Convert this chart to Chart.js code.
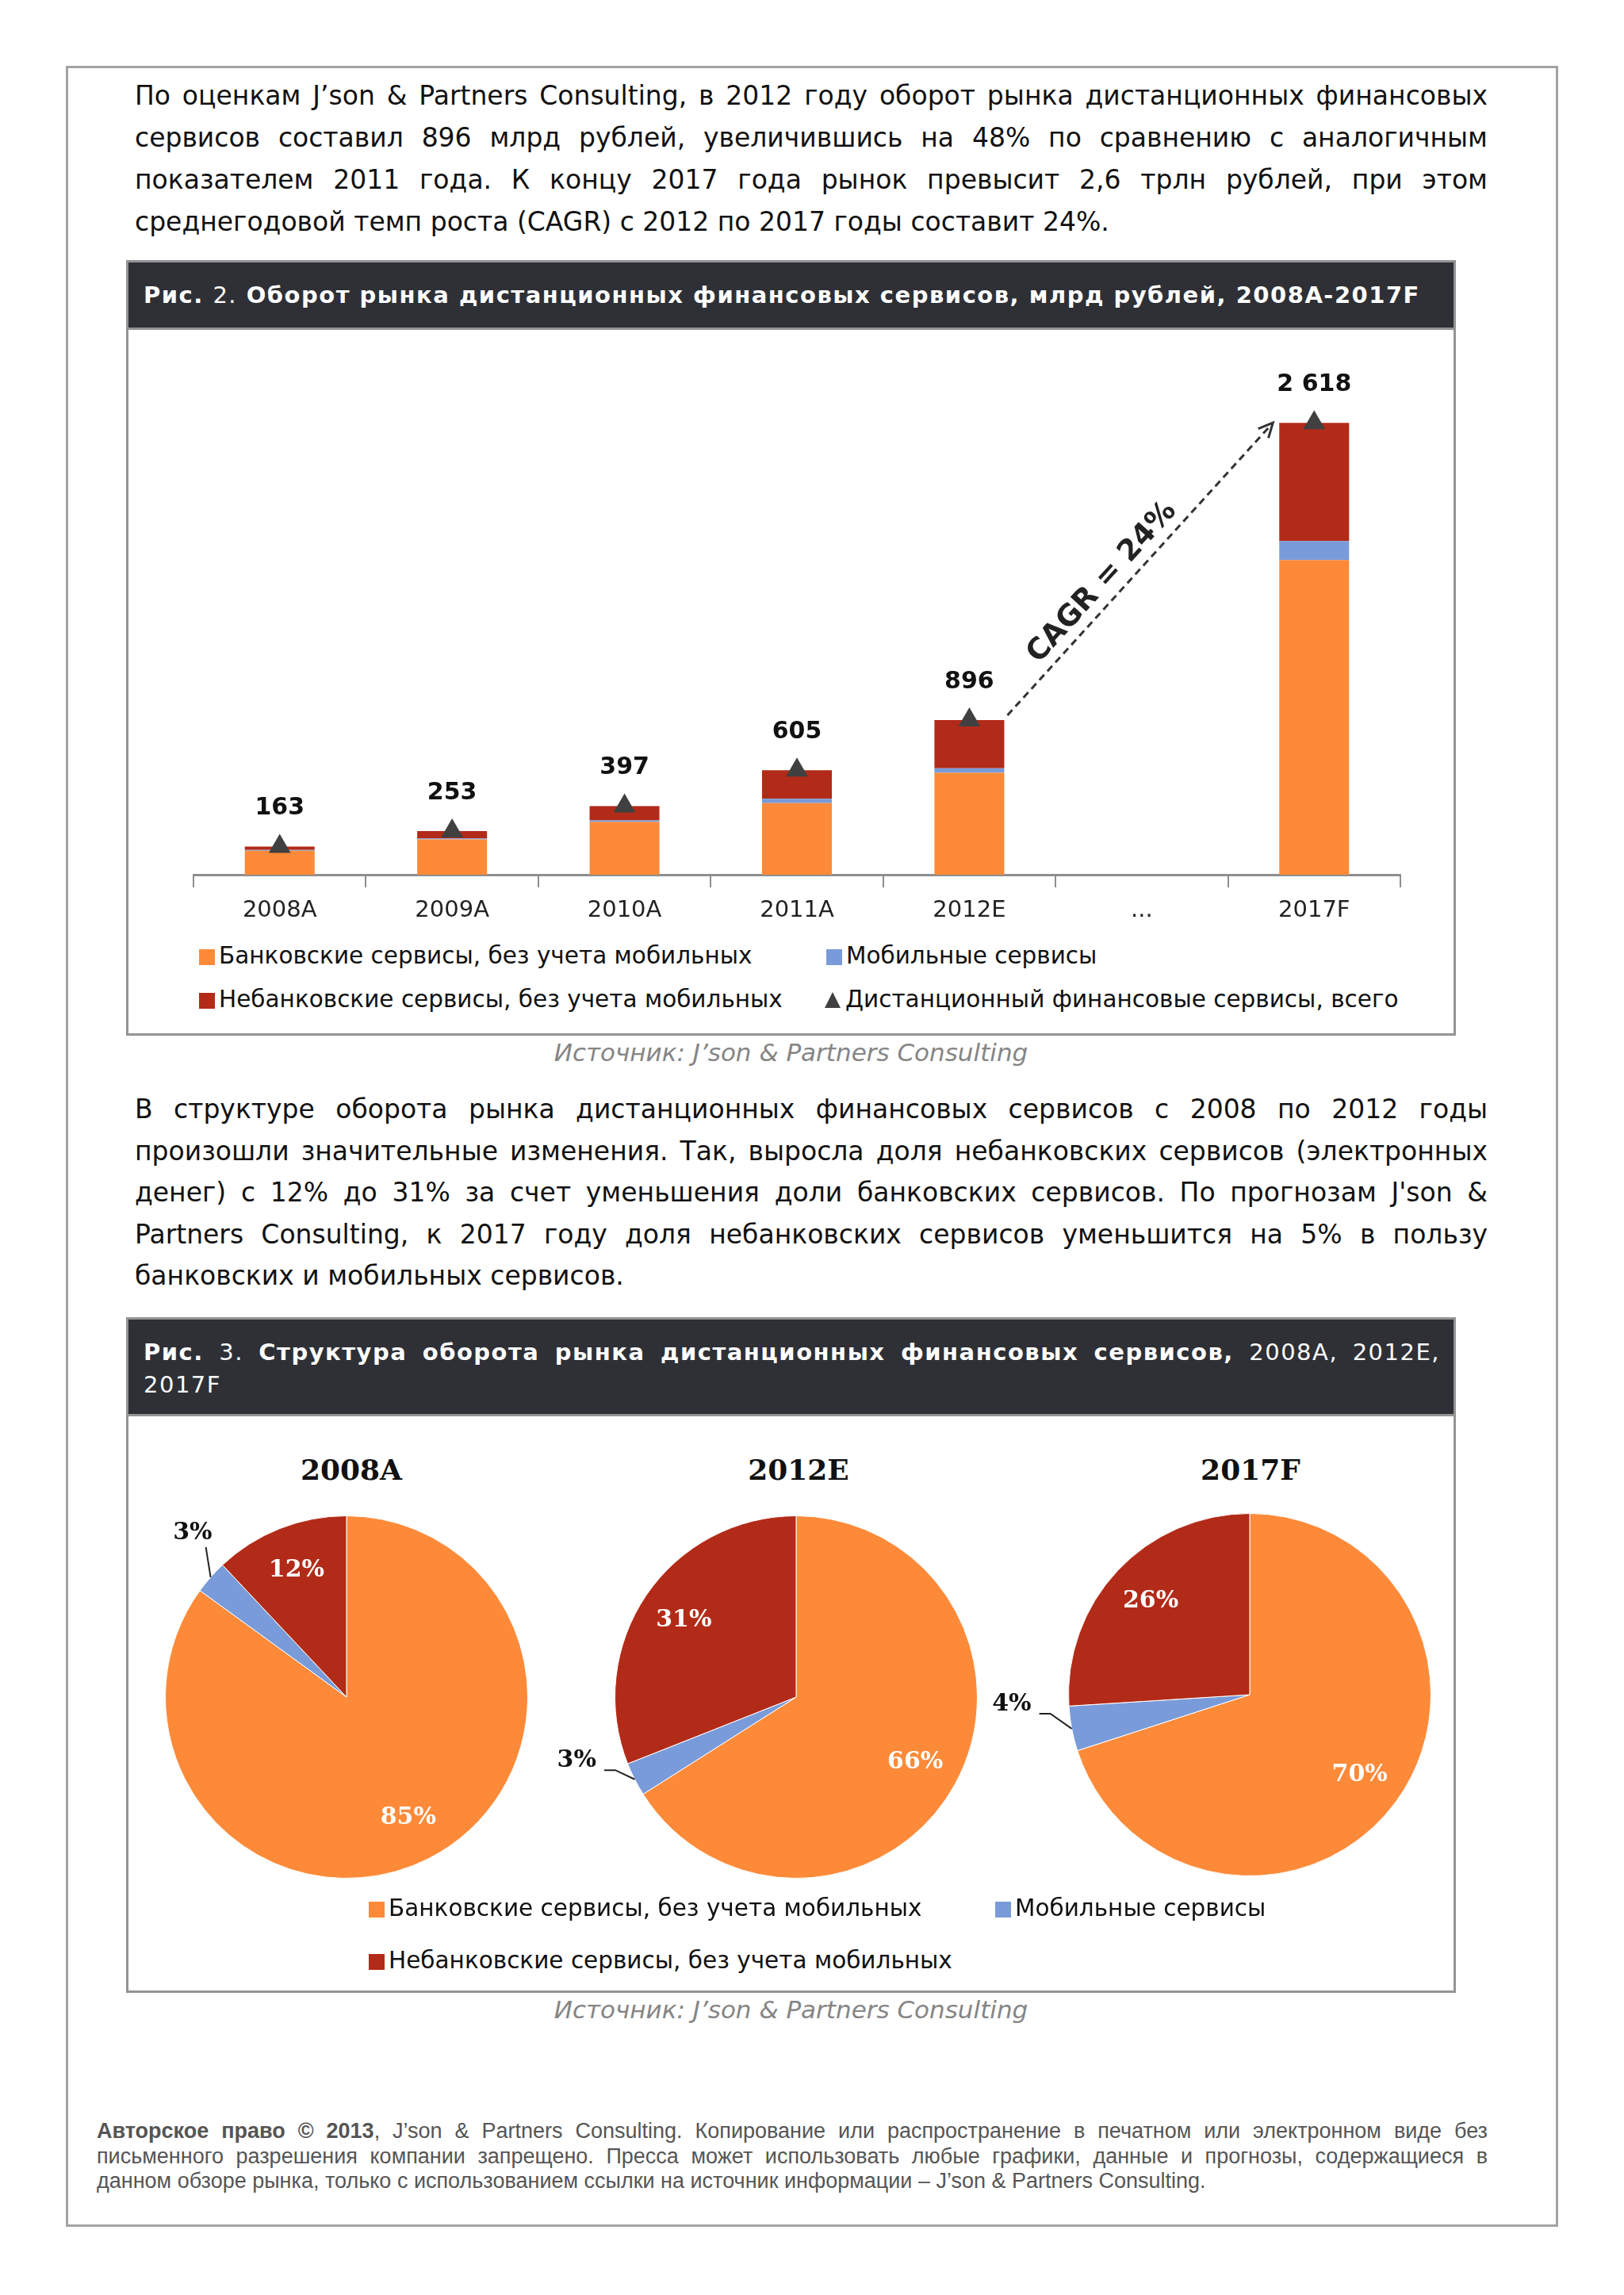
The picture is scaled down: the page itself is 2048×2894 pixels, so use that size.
<!DOCTYPE html>
<html lang="ru">
<head>
<meta charset="utf-8">
<script src="https://cdn.jsdelivr.net/npm/chart.js@4.4.1/dist/chart.umd.min.js"></script>
<style>
    html, body { margin: 0; padding: 0; background: #fff; }
    body { width: 2048px; height: 2894px; position: relative; overflow: hidden; font-family: "DejaVu Sans", sans-serif; color: #111; }
    .abs { position: absolute; }
    .page { position: absolute; left: 83px; top: 83px; width: 1882px; height: 2725px; box-sizing: border-box; border: 3px solid #a3a3a3; }
    .para { position: absolute; left: 170px; width: 1706px; font-size: 33px; line-height: 53px; color: #111; }
    .jl { text-align: justify; text-align-last: justify; }
    .fig { position: absolute; left: 159px; width: 1677px; box-sizing: border-box; border: 3px solid #949494; background: #fff; }
    .fighead { position: absolute; left: 0; top: 0; right: 0; background: #2e3036; border-bottom: 3px solid #949494; color: #fff; font-weight: bold; font-size: 29px; letter-spacing: 1.5px; }
    .fighead .n { font-weight: normal; }
    .legend { position: absolute; font-size: 29.5px; color: #111; white-space: nowrap; line-height: 34px; }
    .legend .sw { display: inline-block; width: 20px; height: 20px; margin-right: 5px; vertical-align: -2px; }
    .legend .tri { display: inline-block; width: 0; height: 0; border-left: 10px solid transparent; border-right: 10px solid transparent; border-bottom: 20px solid #404040; margin-right: 6px; vertical-align: -1px; }
    .source { position: absolute; left: 159px; width: 1677px; text-align: center; font-style: italic; font-size: 31px; color: #858585; }
    .pietitle { position: absolute; width: 300px; margin-left: -150px; text-align: center; font-family: "DejaVu Serif", serif; font-weight: bold; font-size: 36px; color: #111; }
    .footer { position: absolute; left: 122px; width: 1754px; font-family: "Liberation Sans", Arial, sans-serif; font-size: 27px; line-height: 31.5px; color: #555; }
    canvas { position: absolute; }
</style>
</head>
<body>
<div class="page"></div>

<div class="para" style="top:94px;">
    <div class="jl">По оценкам J’son &amp; Partners Consulting, в 2012 году оборот рынка дистанционных финансовых</div>
    <div class="jl">сервисов составил 896 млрд рублей, увеличившись на 48% по сравнению с аналогичным</div>
    <div class="jl">показателем 2011 года. К концу 2017 года рынок превысит 2,6 трлн рублей, при этом</div>
    <div>среднегодовой темп роста (CAGR) с 2012 по 2017 годы составит 24%.</div>
</div>

<!-- Fig. 2 -->
<div class="fig" style="top:328px;height:978px;">
    <div class="fighead" style="height:82px;line-height:82px;padding-left:19px;">Рис. <span class="n">2.</span> Оборот рынка дистанционных финансовых сервисов, млрд рублей, 2008А-2017F</div>
</div>
<canvas id="barChart" width="1677" height="760" style="left:159px;top:420px;"></canvas>
<div id="barLegend"></div>
<div class="source" style="top:1309px;">Источник: J’son &amp; Partners Consulting</div>

<div class="para" style="top:1373px;line-height:52.5px;">
    <div class="jl">В структуре оборота рынка дистанционных финансовых сервисов с 2008 по 2012 годы</div>
    <div class="jl">произошли значительные изменения. Так, выросла доля небанковских сервисов (электронных</div>
    <div class="jl">денег) с 12% до 31% за счет уменьшения доли банковских сервисов. По прогнозам J'son &amp;</div>
    <div class="jl">Partners Consulting, к 2017 году доля небанковских сервисов уменьшится на 5% в пользу</div>
    <div>банковских и мобильных сервисов.</div>
</div>

<!-- Fig. 3 -->
<div class="fig" style="top:1661px;height:852px;">
    <div class="fighead" style="height:122px;line-height:41px;padding:21px 17px 0 19px;box-sizing:border-box;">
        <div class="jl">Рис. <span class="n">3.</span> Структура оборота рынка дистанционных финансовых сервисов, <span class="n">2008A, 2012E,</span></div>
        <div><span class="n">2017F</span></div>
    </div>
</div>
<div id="pieTitles"></div>
<canvas id="pie0" width="700" height="520" style="left:37px;top:1880px;"></canvas>
<canvas id="pie1" width="700" height="520" style="left:604px;top:1880px;"></canvas>
<canvas id="pie2" width="700" height="520" style="left:1176px;top:1877px;"></canvas>
<div id="pieLegend"></div>
<div class="source" style="top:2516px;">Источник: J’son &amp; Partners Consulting</div>

<div class="footer" style="top:2672px;">
    <div class="jl"><b>Авторское право © 2013</b>, J’son &amp; Partners Consulting. Копирование или распространение в печатном или электронном виде без</div>
    <div class="jl">письменного разрешения компании запрещено. Пресса может использовать любые графики, данные и прогнозы, содержащиеся в</div>
    <div>данном обзоре рынка, только с использованием ссылки на источник информации – J’son &amp; Partners Consulting.</div>
</div>

<script>
// Data
const categories = ['2008A', '2009A', '2010A', '2011A', '2012E', '...', '2017F'];
const bankValues = [139, 205, 305, 415, 590, null, 1823];
const mobileValues = [5, 5, 10, 25, 27, null, 110];
const nonBankValues = [19, 43, 82, 165, 279, null, 685];
const totalValues = [163, 253, 397, 605, 896, null, 2618];
const cagrText = 'CAGR = 24%';

const seriesNames = [
    'Банковские сервисы, без учета мобильных',
    'Мобильные сервисы',
    'Небанковские сервисы, без учета мобильных'
];
const totalName = 'Дистанционный  финансовые сервисы, всего';
const seriesColors = ['#fd8a38', '#7a9bd9', '#b22b18'];

const pieTitles = ['2008A', '2012E', '2017F'];
const pie2008 = [85, 3, 12];
const pie2012 = [66, 3, 31];
const pie2017 = [70, 4, 26];

// Format numbers with space separators: 2618 -> "2 618"
function formatTotal(v) {
    return String(v).replace(/\B(?=(\d{3})+(?!\d))/g, ' ');
}

// Totals above bars + CAGR arrow
const barAnnotations = {
    id: 'barAnnotations',
    afterDatasetsDraw(chart) {
        const { ctx, scales: { x, y } } = chart;
        ctx.save();
        ctx.font = 'bold 30px "DejaVu Sans"';
        ctx.fillStyle = '#111';
        ctx.textAlign = 'center';
        ctx.textBaseline = 'middle';
        totalValues.forEach((v, i) => {
            if (v == null) return;
            ctx.fillText(formatTotal(v), x.getPixelForValue(i), y.getPixelForValue(v) - 48);
        });

        // dashed arrow from 2012E to 2017F
        const bars = chart.getDatasetMeta(0).data;
        const from = 4, to = 6;
        const x1 = bars[from].x + bars[from].width / 2 + 4;
        const y1 = y.getPixelForValue(totalValues[from]) - 6;
        const x2 = bars[to].x - bars[to].width / 2 - 8;
        const y2 = y.getPixelForValue(totalValues[to]);
        ctx.strokeStyle = '#333';
        ctx.lineWidth = 3;
        ctx.setLineDash([9, 6]);
        ctx.beginPath();
        ctx.moveTo(x1, y1);
        ctx.lineTo(x2, y2);
        ctx.stroke();
        ctx.setLineDash([]);
        const ang = Math.atan2(y2 - y1, x2 - x1);
        const head = 20;
        ctx.beginPath();
        ctx.moveTo(x2 - head * Math.cos(ang - 0.45), y2 - head * Math.sin(ang - 0.45));
        ctx.lineTo(x2, y2);
        ctx.lineTo(x2 - head * Math.cos(ang + 0.45), y2 - head * Math.sin(ang + 0.45));
        ctx.stroke();

        // rotated CAGR label
        const len = Math.hypot(x2 - x1, y2 - y1);
        const dx = (x2 - x1) / len, dy = (y2 - y1) / len;
        const t = 0.41 * len, off = 24;
        ctx.translate(x1 + dx * t + dy * off, y1 + dy * t - dx * off);
        ctx.rotate(ang);
        ctx.font = 'bold 37px "DejaVu Sans"';
        ctx.fillStyle = '#222';
        ctx.fillText(cagrText, 0, 0);
        ctx.restore();
    }
};

new Chart(document.getElementById('barChart').getContext('2d'), {
    type: 'bar',
    data: {
        labels: categories,
        datasets: [
            { label: seriesNames[0], data: bankValues, backgroundColor: seriesColors[0], stack: 'a', order: 1 },
            { label: seriesNames[1], data: mobileValues, backgroundColor: seriesColors[1], stack: 'a', order: 1 },
            { label: seriesNames[2], data: nonBankValues, backgroundColor: seriesColors[2], stack: 'a', order: 1 },
            {
                type: 'line', label: totalName, data: totalValues, stack: 'total', order: 0,
                showLine: false, pointStyle: 'triangle', pointRadius: 16,
                pointBackgroundColor: '#404040', pointBorderColor: '#404040', pointBorderWidth: 0
            }
        ]
    },
    options: {
        responsive: false,
        animation: false,
        layout: { padding: { left: 85, right: 70, top: 30, bottom: 0 } },
        datasets: { bar: { categoryPercentage: 1, barPercentage: 0.405 } },
        plugins: { legend: { display: false }, tooltip: { enabled: false } },
        scales: {
            x: {
                stacked: true,
                grid: { drawOnChartArea: false, drawTicks: true, tickLength: 16, color: '#8e8e8e', lineWidth: 2, offset: true },
                border: { display: true, color: '#8e8e8e', width: 3 },
                ticks: { color: '#222', font: { family: 'DejaVu Sans', size: 29 }, padding: 12 },
                afterFit: (scale) => { scale.height = 77; }
            },
            y: { stacked: true, display: false, min: 0, max: 3000 }
        }
    },
    plugins: [barAnnotations]
});

// HTML legend for the bar chart (two columns)
function swatch(color) {
    return `<span class="sw" style="background:${color}"></span>`;
}
const barLegend = document.getElementById('barLegend');
barLegend.innerHTML =
    `<div class="legend" style="left:251px;top:1188px;">${swatch(seriesColors[0])}${seriesNames[0]}</div>` +
    `<div class="legend" style="left:1042px;top:1188px;">${swatch(seriesColors[1])}${seriesNames[1]}</div>` +
    `<div class="legend" style="left:251px;top:1243px;">${swatch(seriesColors[2])}${seriesNames[2]}</div>` +
    `<div class="legend" style="left:1040px;top:1243px;"><span class="tri"></span>${totalName}</div>`;

// Pie percentage labels (inside for big slices, outside with leader for small ones)
const pieLabels = {
    id: 'pieLabels',
    afterDatasetsDraw(chart) {
        const { ctx } = chart;
        const values = chart.data.datasets[0].data;
        ctx.save();
        ctx.font = 'bold 30px "DejaVu Serif"';
        ctx.textBaseline = 'middle';
        chart.getDatasetMeta(0).data.forEach((arc, i) => {
            const mid = (arc.startAngle + arc.endAngle) / 2;
            const ux = Math.cos(mid), uy = Math.sin(mid);
            const r = arc.outerRadius;
            const text = values[i] + '%';
            if (values[i] >= 8) {
                ctx.fillStyle = '#fff';
                ctx.textAlign = 'center';
                ctx.fillText(text, arc.x + ux * r * 0.75, arc.y + uy * r * 0.75);
                return;
            }
            const ex = arc.x + ux * r, ey = arc.y + uy * r;
            ctx.strokeStyle = '#222';
            ctx.lineWidth = 2;
            ctx.fillStyle = '#111';
            ctx.beginPath();
            ctx.moveTo(ex, ey);
            if (uy < -0.5) {
                // upper slice: vertical leader, label above
                ctx.lineTo(ex - 6, ey - 38);
                ctx.stroke();
                ctx.textAlign = 'right';
                ctx.fillText(text, ex + 2, ey - 56);
            } else {
                const qx = arc.x + ux * r * 1.12, qy = arc.y + uy * r * 1.12 - 24;
                ctx.lineTo(qx, qy);
                ctx.lineTo(qx - 14, qy);
                ctx.stroke();
                ctx.textAlign = 'right';
                ctx.fillText(text, qx - 24, qy - 12);
            }
        });
        ctx.restore();
    }
};

const pieData = [pie2008, pie2012, pie2017];
pieData.forEach((values, k) => {
    new Chart(document.getElementById('pie' + k).getContext('2d'), {
        type: 'pie',
        data: {
            labels: seriesNames,
            datasets: [{ data: values, backgroundColor: seriesColors, borderColor: '#fff', borderWidth: 1 }]
        },
        options: {
            responsive: false,
            animation: false,
            layout: { padding: { left: 131, right: 31, top: 31, bottom: 31 } },
            plugins: { legend: { display: false }, tooltip: { enabled: false } }
        },
        plugins: [pieLabels]
    });
});

// Pie titles
const titleX = [443, 1007, 1577];
document.getElementById('pieTitles').innerHTML = pieTitles
    .map((t, i) => `<div class="pietitle" style="left:${titleX[i]}px;top:1832px;">${t}</div>`).join('');

// Pie legend
document.getElementById('pieLegend').innerHTML =
    `<div class="legend" style="left:465px;top:2389px;">${swatch(seriesColors[0])}${seriesNames[0]}</div>` +
    `<div class="legend" style="left:1255px;top:2389px;">${swatch(seriesColors[1])}${seriesNames[1]}</div>` +
    `<div class="legend" style="left:465px;top:2455px;">${swatch(seriesColors[2])}${seriesNames[2]}</div>`;
</script>
</body>
</html>
